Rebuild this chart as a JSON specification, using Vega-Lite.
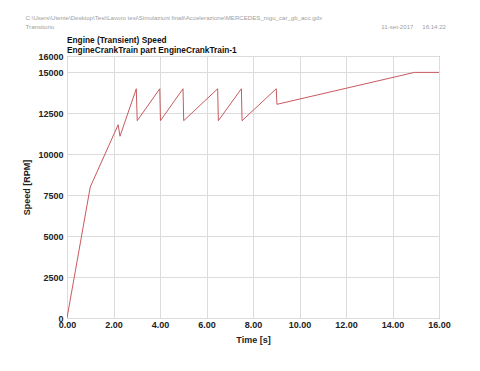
{
  "$schema": "https://vega.github.io/schema/vega-lite/v6.json",
  "autosize": {"type": "none"},
  "width": 372,
  "height": 262,
  "padding": {"left": 67, "top": 56, "right": 41, "bottom": 53},
  "background": "white",
  "config": {
    "font": "Liberation Sans",
    "view": {"stroke": "#7a7a7a", "strokeWidth": 1}
  },
  "resolve": {"axis": {"x": "independent", "y": "independent"}},
  "layer": [
    {
      "data": {
        "values": [
          {"t": 0.0, "v": 0},
          {"t": 1.0, "v": 8000},
          {"t": 2.2, "v": 11800},
          {"t": 2.28, "v": 11100},
          {"t": 2.98, "v": 14000},
          {"t": 3.02, "v": 12050},
          {"t": 3.99, "v": 14000},
          {"t": 4.02, "v": 12050},
          {"t": 4.99, "v": 14000},
          {"t": 5.02, "v": 12050},
          {"t": 6.48, "v": 14000},
          {"t": 6.51, "v": 12050},
          {"t": 7.5, "v": 14000},
          {"t": 7.53, "v": 12050},
          {"t": 9.0, "v": 14000},
          {"t": 9.03, "v": 13050},
          {"t": 14.95, "v": 15000},
          {"t": 16.0, "v": 15000}
        ]
      },
      "mark": {"type": "line", "color": "#c85a5e", "strokeWidth": 1, "clip": true},
      "encoding": {
        "x": {
          "field": "t", "type": "quantitative",
          "scale": {"domain": [0, 16], "nice": false, "zero": false},
          "axis": {
            "values": [0, 2, 4, 6, 8, 10, 12, 14, 16],
            "format": ".2f",
            "title": "Time [s]",
            "titleFont": "Liberation Sans",
            "titleFontSize": 9,
            "titleFontWeight": "bold",
            "titleColor": "#222",
            "titlePadding": 6,
            "labelFont": "Liberation Sans",
            "labelFontSize": 9,
            "labelFontWeight": "bold",
            "labelColor": "#222",
            "labelPadding": 2,
            "labelFlush": false,
            "labelOverlap": false,
            "ticks": false,
            "domain": false,
            "grid": true,
            "gridColor": "#dcdcdc",
            "gridWidth": 1
          }
        },
        "y": {
          "field": "v", "type": "quantitative",
          "scale": {"domain": [0, 16000], "nice": false},
          "axis": {
            "values": [0, 2500, 5000, 7500, 10000, 12500, 15000, 16000],
            "format": "d",
            "title": "Speed [RPM]",
            "titleFont": "Liberation Sans",
            "titleFontSize": 9,
            "titleFontWeight": "bold",
            "titleColor": "#222",
            "titlePadding": 6,
            "labelFont": "Liberation Sans",
            "labelFontSize": 9,
            "labelFontWeight": "bold",
            "labelColor": "#222",
            "labelPadding": 4,
            "labelFlush": false,
            "labelOverlap": false,
            "ticks": false,
            "domain": false,
            "grid": true,
            "gridColor": "#dcdcdc",
            "gridWidth": 1
          }
        }
      }
    },
    {
      "data": {"values": [{}]},
      "mark": {"type": "text", "align": "left", "baseline": "middle", "fontSize": 8.3, "fontWeight": "bold", "color": "#111", "clip": false},
      "encoding": {
        "x": {"datum": 0, "type": "quantitative", "axis": null},
        "y": {"datum": 16916, "type": "quantitative", "axis": null},
        "text": {"value": "Engine (Transient) Speed"}
      }
    },
    {
      "data": {"values": [{}]},
      "mark": {"type": "text", "align": "left", "baseline": "middle", "fontSize": 8.3, "fontWeight": "bold", "color": "#111", "clip": false},
      "encoding": {
        "x": {"datum": 0, "type": "quantitative", "axis": null},
        "y": {"datum": 16324, "type": "quantitative", "axis": null},
        "text": {"value": "EngineCrankTrain part EngineCrankTrain-1"}
      }
    },
    {
      "data": {"values": [{}]},
      "mark": {"type": "text", "align": "left", "baseline": "middle", "fontSize": 6.1, "color": "#a0a0a0", "clip": false},
      "encoding": {
        "x": {"datum": -1.78, "type": "quantitative", "axis": null},
        "y": {"datum": 18320, "type": "quantitative", "axis": null},
        "text": {"value": "C:\\Users\\Utente\\Desktop\\Tesi\\Lavoro tesi\\Simulazioni finali\\Accelerazione\\MERCEDES_mgu_car_gb_acc.gdx"}
      }
    },
    {
      "data": {"values": [{}]},
      "mark": {"type": "text", "align": "left", "baseline": "middle", "fontSize": 6.1, "color": "#a0a0a0", "clip": false},
      "encoding": {
        "x": {"datum": -1.78, "type": "quantitative", "axis": null},
        "y": {"datum": 17770, "type": "quantitative", "axis": null},
        "text": {"value": "Transitorio"}
      }
    },
    {
      "data": {"values": [{}]},
      "mark": {"type": "text", "align": "right", "baseline": "middle", "fontSize": 6.1, "color": "#a0a0a0", "clip": false},
      "encoding": {
        "x": {"datum": 14.9, "type": "quantitative", "axis": null},
        "y": {"datum": 17770, "type": "quantitative", "axis": null},
        "text": {"value": "11-set-2017"}
      }
    },
    {
      "data": {"values": [{}]},
      "mark": {"type": "text", "align": "right", "baseline": "middle", "fontSize": 6.1, "color": "#a0a0a0", "clip": false},
      "encoding": {
        "x": {"datum": 16.3, "type": "quantitative", "axis": null},
        "y": {"datum": 17770, "type": "quantitative", "axis": null},
        "text": {"value": "16:14:22"}
      }
    }
  ]
}
